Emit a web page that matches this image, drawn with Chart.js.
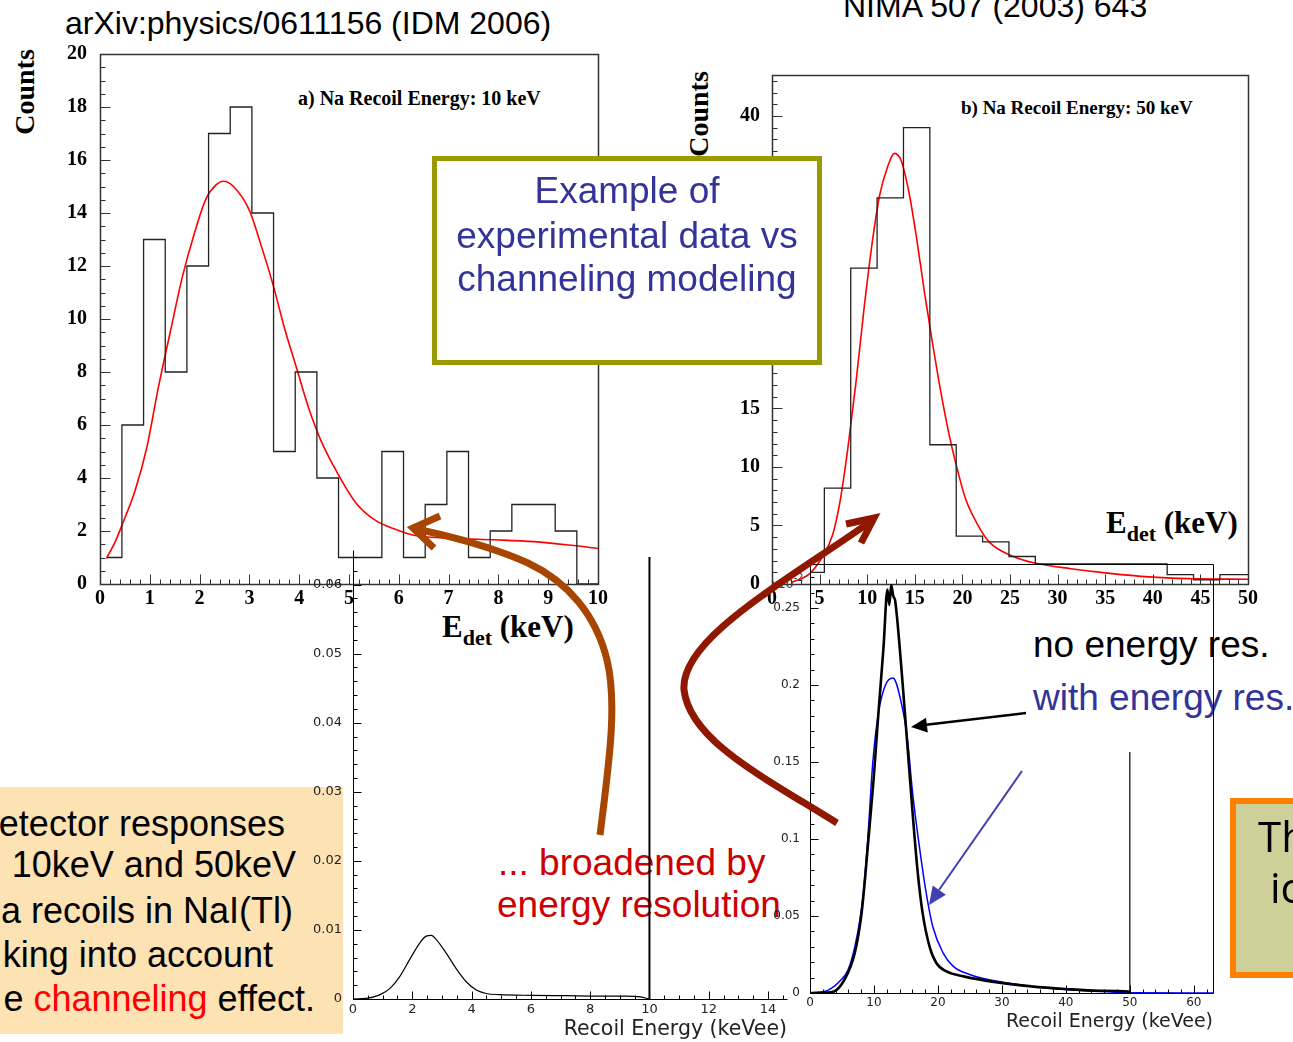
<!DOCTYPE html>
<html>
<head>
<meta charset="utf-8">
<script src="https://cdn.jsdelivr.net/npm/chart.js@4.4.1/dist/chart.umd.min.js"></script>
<style>
html,body{margin:0;padding:0;background:#fff;width:1293px;height:1042px;overflow:hidden;position:relative;}
canvas{position:absolute;}
svg{position:absolute;left:0;top:0;}
</style>
</head>
<body>
<svg id="under" width="1293" height="1042" style="z-index:1" font-family="Liberation Sans, Arial, sans-serif">
  <rect x="0" y="787" width="343" height="247" fill="#FDE2B4"/>
  <g font-size="36" fill="#000" text-anchor="end">
    <text x="285" y="836">etector responses</text>
    <text x="296" y="877">10keV and 50keV</text>
    <text x="293" y="923">a recoils in NaI(Tl)</text>
    <text x="273" y="967">king into account</text>
    <text x="315" y="1011">e <tspan fill="#FF0000">channeling</tspan> effect.</text>
  </g>
  <g font-size="37" fill="#CC0000">
    <text x="498" y="875">... broadened by</text>
    <text x="497" y="917">energy resolution</text>
  </g>
  <text x="1033" y="657" font-size="37" fill="#000">no energy res.</text>
  <text x="1033" y="710" font-size="37" fill="#333399">with energy res.</text>
  <text x="771" y="588" font-size="12" fill="#333" font-family="DejaVu Sans, sans-serif">x10<tspan dy="-7" font-size="10">-2</tspan></text>
  <text x="65" y="34" font-size="32" fill="#000">arXiv:physics/0611156 (IDM 2006)</text>
  <text x="843" y="17" font-size="32" fill="#000">NIMA 507 (2003) 643</text>
  <g font-family="Liberation Serif, Times New Roman, serif" font-weight="bold" fill="#000">
    <text transform="translate(34,92) rotate(-90)" text-anchor="middle" font-size="28">Counts</text>
    <text transform="translate(708,114) rotate(-90)" text-anchor="middle" font-size="28">Counts</text>
    <text x="298" y="105" font-size="20">a) Na Recoil Energy: 10 keV</text>
    <text x="961" y="114" font-size="19">b) Na Recoil Energy: 50 keV</text>
    <text x="442" y="637" font-size="31">E<tspan dy="8" font-size="22">det</tspan><tspan dy="-8" font-size="31"> (keV)</tspan></text>
    <text x="1106" y="533" font-size="31">E<tspan dy="8" font-size="22">det</tspan><tspan dy="-8" font-size="31"> (keV)</tspan></text>
  </g>
</svg>

<canvas id="cA" style="z-index:2"></canvas>
<canvas id="cB" style="z-index:2"></canvas>
<canvas id="cC" style="z-index:3"></canvas>
<canvas id="cD" style="z-index:3"></canvas>

<svg id="over" width="1293" height="1042" style="z-index:5" font-family="Liberation Sans, Arial, sans-serif">
  <rect x="434.5" y="158.5" width="385" height="204" fill="#FFFFFF" stroke="#999900" stroke-width="5"/>
  <g font-size="37" fill="#333399" text-anchor="middle">
    <text x="627" y="203">Example of</text>
    <text x="627" y="248">experimental data vs</text>
    <text x="627" y="291">channeling modeling</text>
  </g>
  <rect x="1233" y="801" width="90" height="174" fill="#CFCF99" stroke="#FF8000" stroke-width="6"/>
  <text x="1258" y="852" font-size="42" fill="#000" font-family="Open Sans, Liberation Sans, sans-serif">Th</text>
  <text x="1270" y="903" font-size="42" fill="#000" font-family="Open Sans, Liberation Sans, sans-serif">ic</text>
  <!-- brown arrow -->
  <path d="M600,835 C608,770 618,705 607,660 C596,615 568,582 528,563 C492,547 455,537 416,529" fill="none" stroke="#A84500" stroke-width="7"/>
  <polyline points="440,516 413,528 434,548" fill="none" stroke="#A84500" stroke-width="7" stroke-linejoin="miter"/>
  <!-- dark red arrow -->
  <path d="M837,823 C760,775 690,740 684,690 C680,640 780,585 870,522" fill="none" stroke="#901800" stroke-width="7"/>
  <polyline points="846,524 874,518 861,543" fill="none" stroke="#901800" stroke-width="7" stroke-linejoin="miter"/>
  <!-- black arrow -->
  <line x1="1026" y1="713" x2="924" y2="725" stroke="#000" stroke-width="2.5"/>
  <polygon points="911,727 926,717.7 927.8,732.5" fill="#000"/>
  <!-- blue arrow -->
  <line x1="1022" y1="771" x2="939" y2="890" stroke="#4040B0" stroke-width="2"/>
  <polygon points="929,905 932.7,885.6 945.9,894.8" fill="#4040B0"/>
</svg>

<script>
// ---------- data: panel a) Na recoil 10 keV (counts vs E_det keV) ----------
const histA_edges  = [0.14,0.44,0.875,1.31,1.745,2.18,2.615,3.05,3.485,3.92,4.355,4.79,5.225,5.66,6.095,6.53,6.965,7.4,7.835,8.27,8.705,9.14,9.575,10];
const histA_counts = [1,6,13,8,12,17,18,14,5,8,4,1,1,5,1,3,5,1,2,3,3,2,0];
const fitA_x = [0.13,0.3,0.46,0.7,0.94,1.17,1.41,1.65,1.89,2.13,2.33,2.48,2.68,3.0,3.24,3.48,3.71,3.95,4.19,4.43,4.75,5.14,5.54,5.94,6.33,7.13,7.92,8.71,9.51,10.0];
const fitA_y = [0.97,1.57,2.31,3.5,5.15,7.4,9.5,11.56,13.2,14.54,15.06,15.2,15.0,14.1,12.75,11.26,9.62,8.13,6.64,5.44,4.25,3.06,2.39,2.06,1.83,1.72,1.67,1.6,1.45,1.34];

// ---------- data: panel b) Na recoil 50 keV ----------
const histB_edges  = [4.0,5.5,8.27,11.04,13.81,16.58,19.35,22.12,24.89,27.66,30.43,33.2,35.97,38.74,41.51,44.28,47.05,50];
const histB_counts = [1,8.2,27,33,39,11.9,4.1,3.6,2.35,1.72,1.72,1.72,1.72,1.72,0.8,0.35,0.8];
const fitB_x = [2.1,3.9,5.1,6.37,7.19,8.0,8.83,9.65,10.48,11.3,12.12,12.86,13.56,14.38,15.2,16.02,16.84,17.67,18.7,19.5,20.34,21.57,22.8,25.27,27.73,31.4,35.5,39.6,43.75,50];
const fitB_y = [0.15,0.85,2.07,4.2,7.26,11.8,17.3,23.4,28.9,33.2,35.6,36.8,36.2,33.5,29.5,24.9,20.7,16.7,12.4,9.7,7.26,5.12,3.6,2.38,1.77,1.31,0.91,0.61,0.46,0.4];

// ---------- data: simulated response, 10 keV recoil (keVee) ----------
const simC_x = [0,0.45,0.9,1.24,1.57,1.91,2.25,2.47,2.64,2.81,3.15,3.48,3.82,4.16,4.49,4.94,6.07,7.19,8.31,9.2,9.7,10];
const simC_y = [0,0.0001,0.0006,0.0015,0.0032,0.0057,0.0081,0.0091,0.0092,0.0086,0.0066,0.0044,0.0025,0.0013,0.0008,0.00063,0.00053,0.00048,0.00043,0.00043,0.0003,0];
const edgeC_x = [10,10];
const edgeC_y = [0,0.064];

// ---------- data: simulated response, 50 keV recoil (keVee) ----------
const simD_noRes_x = [0,3.3,5.4,7.0,8.07,9.13,9.93,10.7,11.5,12.1,12.4,12.7,13.0,13.3,13.65,14.44,15.24,16.04,16.8,17.6,18.7,19.75,21.35,24.0,29.3,34.6,39.9,45.2,49.8,50];
const simD_noRes_y = [0,0.0004,0.0087,0.026,0.052,0.0996,0.138,0.182,0.225,0.262,0.252,0.265,0.258,0.255,0.242,0.203,0.16,0.117,0.08,0.052,0.030,0.0195,0.014,0.0108,0.0069,0.0043,0.0026,0.0015,0.001,0];
const simD_res_x = [0,2.76,4.9,5.95,7.0,7.8,8.34,9.03,9.82,10.7,11.8,12.96,14.4,15.24,16.04,17.1,18.16,19.2,20.8,22.4,25.07,29.3,34.6,39.9,45.2,50.6,63];
const simD_res_y = [0,0.0017,0.0087,0.015,0.030,0.0476,0.065,0.1,0.15,0.182,0.2,0.2045,0.186,0.1645,0.13,0.095,0.065,0.043,0.026,0.0173,0.0119,0.0076,0.0043,0.0022,0.0009,0.0002,0];
const edgeD_x = [50,50];
const edgeD_y = [0,0.1565];

// ---------- helpers ----------
const zip = (xs, ys) => xs.map((x, i) => ({x, y: ys[i]}));
const histPoints = (edges, counts) => {
  const p = counts.map((c, i) => ({x: edges[i], y: c}));
  p.push({x: edges[edges.length - 1], y: counts[counts.length - 1]});
  return p;
};
const fmt = v => String(Math.round(v * 10000) / 10000);

// ROOT-like frame with inward tick marks, placed through the chart scales
const rootFrame = {
  id: 'rootFrame',
  afterDraw(chart, args, o) {
    if (!o || !o.on) return;
    const {ctx, chartArea: a, scales} = chart;
    const L = Math.round(a.left) + 0.5, R = Math.round(a.right) + 0.5;
    const T = Math.round(a.top) + 0.5, B = Math.round(a.bottom) + 0.5;
    ctx.save();
    ctx.strokeStyle = o.color;
    ctx.lineWidth = o.tickWidth;
    ctx.beginPath();
    const marks = (sc, step, len, isX) => {
      const n = Math.floor((sc.max - sc.min) / step + 1e-6);
      for (let i = 0; i <= n; i++) {
        const p = Math.round(sc.getPixelForValue(sc.min + i * step)) + 0.5;
        if (isX) { ctx.moveTo(p, B); ctx.lineTo(p, B - len); }
        else { ctx.moveTo(L, p); ctx.lineTo(L + len, p); }
      }
    };
    marks(scales.x, o.xMinor, o.minLen, true);
    marks(scales.x, o.xMajor, o.majLen, true);
    marks(scales.y, o.yMinor, o.minLen, false);
    marks(scales.y, o.yMajor, o.majLen, false);
    ctx.stroke();
    ctx.lineWidth = o.frameWidth;
    ctx.beginPath();
    if (o.full) { ctx.rect(L, T, R - L, B - T); }
    else { ctx.moveTo(L, T); ctx.lineTo(L, B); ctx.lineTo(R, B); }
    ctx.stroke();
    ctx.restore();
  }
};

function makeChart(id, box, area, datasets, sx, sy, frame) {
  const cv = document.getElementById(id);
  cv.width = box.w; cv.height = box.h;
  cv.style.left = box.l + 'px'; cv.style.top = box.t + 'px';
  cv.style.width = box.w + 'px'; cv.style.height = box.h + 'px';
  const xAxis = Object.assign({
    type: 'linear', position: 'bottom',
    grid: {display: false, drawTicks: false}, border: {display: false},
    afterFit: s => { s.height = box.t + box.h - area.bottom; }
  }, sx);
  const yAxis = Object.assign({
    type: 'linear', position: 'left',
    grid: {display: false, drawTicks: false}, border: {display: false},
    afterFit: s => { s.width = area.left - box.l; }
  }, sy);
  return new Chart(cv, {
    type: 'line',
    data: {datasets},
    options: {
      responsive: false, animation: false, devicePixelRatio: 1,
      layout: {padding: {left: 0, top: area.top - box.t, right: box.l + box.w - area.right, bottom: 0}},
      plugins: {legend: {display: false}, tooltip: {enabled: false}, rootFrame: frame},
      elements: {point: {radius: 0}},
      scales: {x: xAxis, y: yAxis}
    },
    plugins: [rootFrame]
  });
}

const serifTicks = (size) => ({font: {family: 'Liberation Serif, Times New Roman, serif', weight: 'bold', size}, color: '#000'});
const sansTicks = (size) => ({font: {family: 'DejaVu Sans, sans-serif', size}, color: '#222'});

// Panel a
makeChart('cA', {l: 0, t: 0, w: 640, h: 660}, {left: 100, top: 54, right: 598, bottom: 584},
  [
    {data: histPoints(histA_edges, histA_counts), stepped: 'before', borderColor: '#222', borderWidth: 1.3, fill: false},
    {data: zip(fitA_x, fitA_y), borderColor: '#FF0000', borderWidth: 1.6, cubicInterpolationMode: 'monotone', fill: false}
  ],
  {min: 0, max: 10, ticks: Object.assign({stepSize: 1, padding: 3, autoSkip: false, maxRotation: 0, includeBounds: false}, serifTicks(20))},
  {min: 0, max: 20, ticks: Object.assign({stepSize: 2, padding: 13, autoSkip: false, includeBounds: false}, serifTicks(20))},
  {on: true, full: true, color: '#333', tickWidth: 1, frameWidth: 1.5, xMajor: 1, xMinor: 0.2, yMajor: 2, yMinor: 0.5, majLen: 10, minLen: 5});

// Panel b
makeChart('cB', {l: 660, t: 0, w: 633, h: 640}, {left: 772, top: 75, right: 1248, bottom: 584},
  [
    {data: histPoints(histB_edges, histB_counts), stepped: 'before', borderColor: '#222', borderWidth: 1.3, fill: false},
    {data: zip(fitB_x, fitB_y), borderColor: '#FF0000', borderWidth: 1.6, cubicInterpolationMode: 'monotone', fill: false}
  ],
  {min: 0, max: 50, ticks: Object.assign({stepSize: 5, padding: 3, autoSkip: false, maxRotation: 0, includeBounds: false}, serifTicks(20))},
  {min: 0, max: 43.5, ticks: Object.assign({stepSize: 5, padding: 12, autoSkip: false, includeBounds: false}, serifTicks(20))},
  {on: true, full: true, color: '#333', tickWidth: 1, frameWidth: 1.5, xMajor: 5, xMinor: 1, yMajor: 5, yMinor: 1, majLen: 10, minLen: 5});

// Panel c (10 keV simulated)
makeChart('cC', {l: 290, t: 530, w: 520, h: 512}, {left: 353, top: 550, right: 787, bottom: 999},
  [
    {data: zip(simC_x, simC_y), borderColor: '#000', borderWidth: 1.2, cubicInterpolationMode: 'monotone', fill: false},
    {data: zip(edgeC_x, edgeC_y), borderColor: '#000', borderWidth: 2, fill: false}
  ],
  {min: 0, max: 14.64, ticks: Object.assign({stepSize: 2, padding: 3, autoSkip: false, maxRotation: 0, includeBounds: false, callback: fmt}, sansTicks(13)),
   title: {display: true, text: 'Recoil Energy (keVee)', align: 'end', color: '#222', font: {family: 'DejaVu Sans, sans-serif', size: 20.5}, padding: {top: 0, bottom: 0}}},
  {min: 0, max: 0.065, ticks: Object.assign({stepSize: 0.01, padding: 11, autoSkip: false, includeBounds: false, callback: fmt}, sansTicks(13))},
  {on: true, full: false, color: '#000', tickWidth: 1, frameWidth: 1, xMajor: 2, xMinor: 0.5, yMajor: 0.01, yMinor: 0.002, majLen: 8, minLen: 4});

// Panel d (50 keV simulated)
makeChart('cD', {l: 760, t: 545, w: 533, h: 497}, {left: 810, top: 564, right: 1213, bottom: 993},
  [
    {data: zip(simD_noRes_x, simD_noRes_y), borderColor: '#000', borderWidth: 2.6, cubicInterpolationMode: 'monotone', fill: false},
    {data: zip(simD_res_x, simD_res_y), borderColor: '#0000FF', borderWidth: 1.5, cubicInterpolationMode: 'monotone', fill: false},
    {data: zip(edgeD_x, edgeD_y), borderColor: '#000', borderWidth: 1.2, fill: false}
  ],
  {min: 0, max: 63, ticks: Object.assign({stepSize: 10, padding: 3, autoSkip: false, maxRotation: 0, includeBounds: false, callback: fmt}, sansTicks(12)),
   title: {display: true, text: 'Recoil Energy (keVee)', align: 'end', color: '#222', font: {family: 'DejaVu Sans, sans-serif', size: 19}, padding: {top: 0, bottom: 9}}},
  {min: 0, max: 0.2786, ticks: Object.assign({stepSize: 0.05, padding: 10, autoSkip: false, includeBounds: false, callback: fmt}, sansTicks(12))},
  {on: true, full: true, color: '#000', tickWidth: 1, frameWidth: 1, xMajor: 10, xMinor: 2, yMajor: 0.05, yMinor: 0.01, majLen: 8, minLen: 4});
</script>
</body>
</html>
